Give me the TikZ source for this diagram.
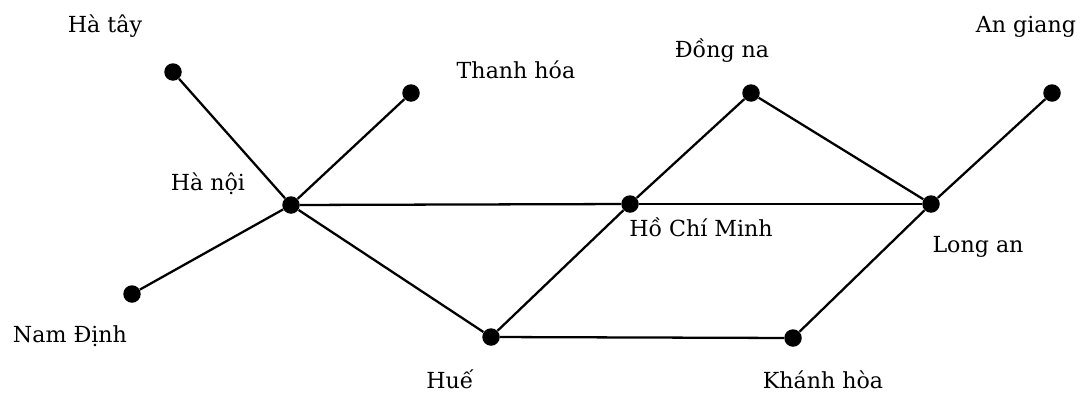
\documentclass[tikz,border=0pt]{standalone}
\usepackage{fontspec}
\setmainfont{DejaVu Serif}
\begin{document}
\begin{tikzpicture}[x=0.02cm,y=-0.02cm,city/.style={circle,fill=black,minimum size=0.35cm,inner sep=0},citylabel/.style={anchor=base,inner sep=0,font=\fontsize{12.6pt}{15pt}\selectfont},road/.style={line width=1.3pt}]
\useasboundingbox (0,0) rectangle (1081,396);
\node[city](hatay)at(173,72){};\node[city](thanhhoa)at(411,93){};\node[city](hanoi)at(291,205){};
\node[city](namdinh)at(132,294){};\node[city](hue)at(491,337){};\node[city](hcm)at(630,204){};
\node[city](dongnai)at(751,93){};\node[city](khanhhoa)at(793,338){};\node[city](longan)at(931,204){};
\node[city](angiang)at(1052,93){};
\foreach \a/\b in {hatay/hanoi,thanhhoa/hanoi,namdinh/hanoi,hanoi/hue,hanoi/hcm,hcm/longan,hue/hcm,hcm/dongnai,dongnai/longan,longan/angiang,hue/khanhhoa,khanhhoa/longan}\draw[road](\a)--(\b);
\node[citylabel](thatay)at(105,32){Hà tây};\node[citylabel](tthanhhoa)at(516,78){Thanh hóa};
\node[citylabel](tdongnai)at(722,57){Đồng na};\node[citylabel](tangiang)at(1026,32){An giang};
\node[citylabel](thanoi)at(208,190){Hà nội};\node[citylabel](thcm)at(701,236){Hồ Chí Minh};
\node[citylabel](tlongan)at(978,252){Long an};\node[citylabel](tnamdinh)at(70,342){Nam Định};
\node[citylabel](thue)at(450,388){Huế};\node[citylabel](tkhanhhoa)at(823,388){Khánh hòa};
\end{tikzpicture}
\end{document}
